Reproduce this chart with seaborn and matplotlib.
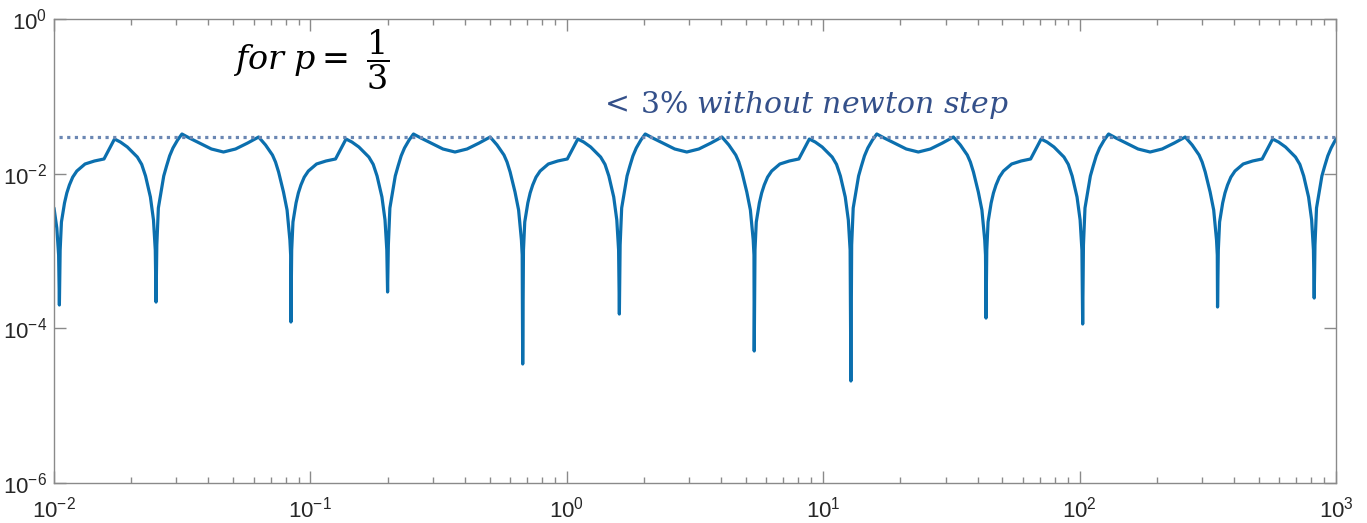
import matplotlib
matplotlib.use("Agg")
import matplotlib.pyplot as plt
import seaborn as sns
import pandas as pd
import numpy as np
from matplotlib.ticker import LogLocator, NullLocator, FuncFormatter

# ---- data (values are log10 of x and of the relative error) ----
lead_log_x = [-2.000, -1.989, -1.982]
lead_log_err = [-2.444, -2.703, -3.050]

p0_log_x = [-1.979, -1.976, -1.971, -1.959, -1.950, -1.940, -1.927, -1.911, -1.879, -1.842,
            -1.805, -1.764, -1.741, -1.714, -1.675, -1.658, -1.643, -1.624, -1.612, -1.605,
            -1.602, -1.599, -1.593, -1.581, -1.572, -1.561, -1.549, -1.536, -1.518, -1.501,
            -1.472, -1.433, -1.386, -1.339, -1.292, -1.245, -1.202, -1.175, -1.148, -1.136,
            -1.124, -1.105, -1.091, -1.080, -1.077]
p0_log_err = [-3.698, -2.987, -2.625, -2.379, -2.250, -2.147, -2.045, -1.966, -1.875, -1.836,
              -1.810, -1.552, -1.591, -1.655, -1.785, -1.880, -2.030, -2.302, -2.599, -2.987,
              -3.660, -2.923, -2.444, -2.211, -2.030, -1.901, -1.770, -1.668, -1.565, -1.487,
              -1.539, -1.604, -1.681, -1.720, -1.681, -1.604, -1.526, -1.629, -1.759, -1.850,
              -1.979, -2.237, -2.470, -2.858, -3.052]

p1_log_x = [-1.076, -1.073, -1.068, -1.056, -1.047, -1.037, -1.024, -1.008, -0.976, -0.939,
            -0.902, -0.861, -0.838, -0.811, -0.772, -0.755, -0.740, -0.721, -0.709, -0.702,
            -0.699, -0.696, -0.690, -0.678, -0.669, -0.658, -0.646, -0.633, -0.615, -0.598,
            -0.569, -0.530, -0.483, -0.436, -0.389, -0.342, -0.299, -0.272, -0.245, -0.233,
            -0.221, -0.202, -0.188, -0.177, -0.174]
p1_log_err = [-3.918, -2.987, -2.625, -2.379, -2.250, -2.147, -2.045, -1.966, -1.875, -1.836,
              -1.810, -1.552, -1.591, -1.655, -1.785, -1.880, -2.030, -2.302, -2.599, -2.987,
              -3.530, -2.923, -2.444, -2.211, -2.030, -1.901, -1.770, -1.668, -1.565, -1.487,
              -1.539, -1.604, -1.681, -1.720, -1.681, -1.604, -1.526, -1.629, -1.759, -1.850,
              -1.979, -2.237, -2.470, -2.858, -3.052]

p2_log_x = [-0.172, -0.169, -0.164, -0.152, -0.143, -0.133, -0.120, -0.104, -0.072, -0.035,
            0.002, 0.043, 0.066, 0.093, 0.132, 0.149, 0.164, 0.183, 0.195, 0.202,
            0.205, 0.208, 0.214, 0.226, 0.235, 0.246, 0.258, 0.271, 0.289, 0.306,
            0.335, 0.374, 0.421, 0.468, 0.515, 0.562, 0.605, 0.632, 0.659, 0.671,
            0.683, 0.702, 0.716, 0.727, 0.730]
p2_log_err = [-4.461, -2.987, -2.625, -2.379, -2.250, -2.147, -2.045, -1.966, -1.875, -1.836,
              -1.810, -1.552, -1.591, -1.655, -1.785, -1.880, -2.030, -2.302, -2.599, -2.987,
              -3.815, -2.923, -2.444, -2.211, -2.030, -1.901, -1.770, -1.668, -1.565, -1.487,
              -1.539, -1.604, -1.681, -1.720, -1.681, -1.604, -1.526, -1.629, -1.759, -1.850,
              -1.979, -2.237, -2.470, -2.858, -3.052]

p3_log_x = [0.731, 0.734, 0.739, 0.751, 0.760, 0.770, 0.783, 0.799, 0.831, 0.868,
            0.905, 0.946, 0.969, 0.996, 1.035, 1.052, 1.067, 1.086, 1.098, 1.105,
            1.108, 1.111, 1.117, 1.129, 1.138, 1.149, 1.161, 1.174, 1.192, 1.209,
            1.238, 1.277, 1.324, 1.371, 1.418, 1.465, 1.508, 1.535, 1.562, 1.574,
            1.586, 1.605, 1.619, 1.630, 1.633]
p3_log_err = [-4.293, -2.987, -2.625, -2.379, -2.250, -2.147, -2.045, -1.966, -1.875, -1.836,
              -1.810, -1.552, -1.591, -1.655, -1.785, -1.880, -2.030, -2.302, -2.599, -2.987,
              -4.681, -2.923, -2.444, -2.211, -2.030, -1.901, -1.770, -1.668, -1.565, -1.487,
              -1.539, -1.604, -1.681, -1.720, -1.681, -1.604, -1.526, -1.629, -1.759, -1.850,
              -1.979, -2.237, -2.470, -2.858, -3.052]

p4_log_x = [1.635, 1.638, 1.643, 1.655, 1.664, 1.674, 1.687, 1.703, 1.735, 1.772,
            1.809, 1.850, 1.873, 1.900, 1.939, 1.956, 1.971, 1.990, 2.002, 2.009,
            2.012, 2.015, 2.021, 2.033, 2.042, 2.053, 2.065, 2.078, 2.096, 2.113,
            2.142, 2.181, 2.228, 2.275, 2.322, 2.369, 2.412, 2.439, 2.466, 2.478,
            2.490, 2.509, 2.523, 2.534, 2.537]
p4_log_err = [-3.867, -2.987, -2.625, -2.379, -2.250, -2.147, -2.045, -1.966, -1.875, -1.836,
              -1.810, -1.552, -1.591, -1.655, -1.785, -1.880, -2.030, -2.302, -2.599, -2.987,
              -3.944, -2.923, -2.444, -2.211, -2.030, -1.901, -1.770, -1.668, -1.565, -1.487,
              -1.539, -1.604, -1.681, -1.720, -1.681, -1.604, -1.526, -1.629, -1.759, -1.850,
              -1.979, -2.237, -2.470, -2.858, -3.052]

p5_log_x = [2.538, 2.541, 2.546, 2.558, 2.567, 2.577, 2.590, 2.606, 2.638, 2.675,
            2.712, 2.753, 2.776, 2.803, 2.842, 2.859, 2.874, 2.893, 2.905, 2.912,
            2.915, 2.918, 2.924, 2.936, 2.945, 2.956, 2.968, 2.981, 3.000]
p5_log_err = [-3.724, -2.987, -2.625, -2.379, -2.250, -2.147, -2.045, -1.966, -1.875, -1.836,
              -1.810, -1.552, -1.591, -1.655, -1.785, -1.880, -2.030, -2.302, -2.599, -2.987,
              -3.608, -2.923, -2.444, -2.211, -2.030, -1.901, -1.770, -1.668, -1.550]

threshold = 0.03
threshold_x_range = [0.0105, 1000.0]
x_limits = [1e-2, 1e3]
y_limits = [1e-6, 1e0]
y_tick_values = [1e-6, 1e-4, 1e-2, 1e0]
title_text = r"$for\ p=\ \dfrac{1}{3}$"
note_text = r"$<\,3\%\ without\ newton\ step$"

# ---- assemble ----
all_log_x = lead_log_x + p0_log_x + p1_log_x + p2_log_x + p3_log_x + p4_log_x + p5_log_x
all_log_err = lead_log_err + p0_log_err + p1_log_err + p2_log_err + p3_log_err + p4_log_err + p5_log_err
df = pd.DataFrame({"x": np.power(10.0, all_log_x), "err": np.power(10.0, all_log_err)})

sns.set_style("ticks")
plt.rcParams["font.family"] = ["Liberation Sans", "DejaVu Sans"]
plt.rcParams["mathtext.fontset"] = "dejavuserif"
plt.rcParams["axes.unicode_minus"] = False

fig = plt.figure(figsize=(13.67, 5.23), dpi=100)
ax = fig.add_axes([54 / 1367, 1 - 483 / 523, (1336 - 54) / 1367, (483 - 19) / 523])

ax.set_xscale("log")
ax.set_yscale("log")

sns.lineplot(data=df, x="x", y="err", ax=ax, estimator=None, sort=False,
             color="#0b6fae", linewidth=2.3)
ax.plot(threshold_x_range, [threshold, threshold], color="#6b87b3",
        linewidth=2.3, linestyle=(0, (1, 1.4)))

ax.set_xlim(*x_limits)
ax.set_ylim(*y_limits)
ax.set_yticks(y_tick_values)
ax.yaxis.set_minor_locator(NullLocator())
ax.xaxis.set_major_locator(LogLocator(base=10, numticks=20))
ax.xaxis.set_minor_locator(LogLocator(base=10, subs=np.arange(2, 10), numticks=50))


def pow_label(v, pos):
    e = int(round(np.log10(v)))
    return "$\\mathregular{10^{%d}}$" % e


fmt = FuncFormatter(pow_label)
ax.xaxis.set_major_formatter(fmt)
ax.yaxis.set_major_formatter(fmt)

ax.set_xlabel("")
ax.set_ylabel("")

spine_col = "#8a8a8a"
for s in ax.spines.values():
    s.set_color(spine_col)
    s.set_linewidth(1.0)
    s.set_visible(True)

ax.tick_params(which="both", direction="in", top=True, right=True, color=spine_col,
               labelcolor="#262626", labelsize=16)
ax.tick_params(which="major", length=8.5, width=1.0)
ax.tick_params(which="minor", length=4.3, width=1.0)
ax.tick_params(axis="x", which="major", pad=10)
ax.tick_params(axis="y", which="major", pad=5)

ax.text(0.05, 0.30, title_text, fontsize=24, color="black", ha="left", va="center")
ax.text(1.33, 0.077, note_text, fontsize=21.5, color="#34508a", ha="left", va="center")

fig.savefig("out.png", dpi=100)
